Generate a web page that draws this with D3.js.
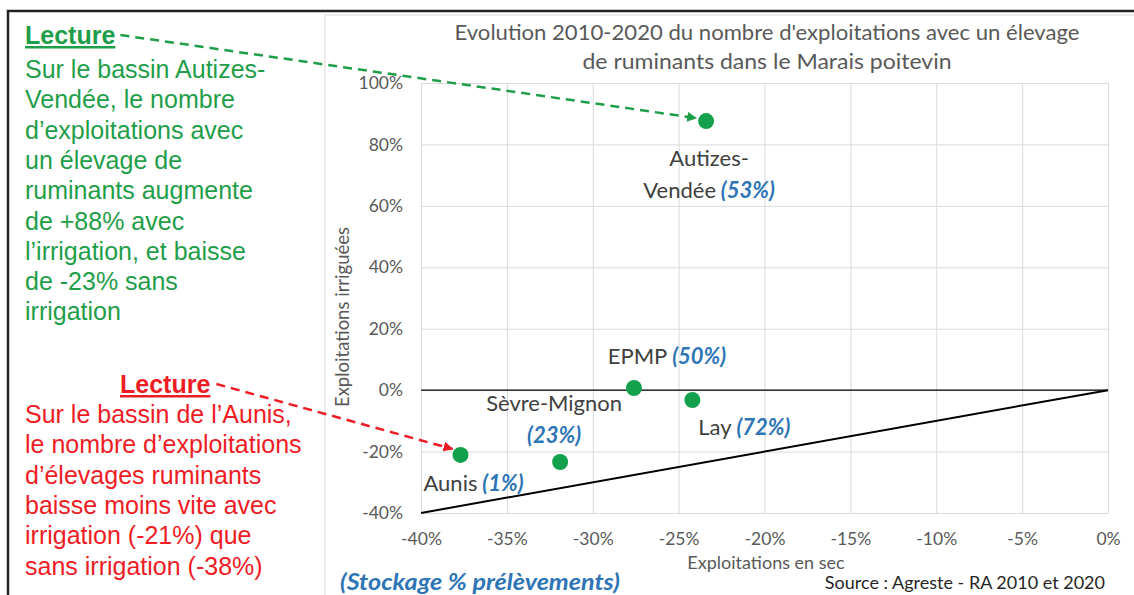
<!DOCTYPE html>
<html>
<head>
<meta charset="utf-8">
<script src="https://cdn.jsdelivr.net/npm/d3@7"></script>
<style>
  body { margin: 0; background: #fff; }
  svg { display: block; }
  .tick text { font-family: Lato, "Open Sans", sans-serif; fill: #595959; }
</style>
</head>
<body>
<div id="chart"></div>
<script>
// data
var sites = ['Autizes-Vendée', 'EPMP', 'Lay', 'Sèvre-Mignon', 'Aunis'];
var sec = [-0.234, -0.276, -0.242, -0.319, -0.377];      // exploitations en sec
var irrig = [0.876, 0.007, -0.032, -0.234, -0.211];      // exploitations irriguées
var stockage = ['53%', '50%', '72%', '23%', '1%'];       // stockage % prélèvements
var xTicks = [-0.4, -0.35, -0.3, -0.25, -0.2, -0.15, -0.1, -0.05, 0];
var yTicks = [-0.4, -0.2, 0, 0.2, 0.4, 0.6, 0.8, 1];

var greenNote = ['Sur le bassin Autizes-', 'Vendée, le nombre', 'd’exploitations avec', 'un élevage de',
    'ruminants augmente', 'de +88% avec', 'l’irrigation, et baisse', 'de -23% sans', 'irrigation'];
var redNote = ['Sur le bassin de l’Aunis,', 'le nombre d’exploitations', 'd’élevages ruminants',
    'baisse moins vite avec', 'irrigation (-21%) que', 'sans irrigation (-38%)'];

var width = 1134, height = 595;
var green = '#1f9e49', red = '#ee1c25', blue = '#2e75b6', dotColor = '#14a14d', grey = '#595959';

var pct = d3.formatLocale({ decimal: '.', thousands: ',', grouping: [3], currency: ['', ''], minus: '-' }).format('.0%');

var svg = d3.select('#chart').append('svg')
    .attr('width', width)
    .attr('height', height);

var defs = svg.append('defs');
[['arrGreen', green], ['arrRed', red]].forEach(function(m) {
    defs.append('marker')
        .attr('id', m[0])
        .attr('viewBox', '0 0 10 10')
        .attr('refX', 9).attr('refY', 5)
        .attr('markerWidth', 4).attr('markerHeight', 4)
        .attr('orient', 'auto')
        .append('path')
        .attr('d', 'M0,0L10,5L0,10Z')
        .attr('fill', m[1]);
});

// outer frame
svg.append('path')
    .attr('d', 'M8,' + height + 'V11H' + width)
    .attr('fill', 'none')
    .attr('stroke', '#222')
    .attr('stroke-width', 2.5);

// chart panel
svg.append('rect')
    .attr('x', 325).attr('y', 15)
    .attr('width', 830).attr('height', 600)
    .attr('fill', '#fff')
    .attr('stroke', '#d9d9d9');

var x = d3.scaleLinear().domain([-0.4, 0]).range([421, 1108]);
var y = d3.scaleLinear().domain([-0.4, 1]).range([513, 83]);

var gx = svg.append('g')
    .attr('transform', 'translate(0,' + y(-0.4) + ')')
    .call(d3.axisBottom(x).tickValues(xTicks).tickFormat(pct).tickSize(-(y(-0.4) - y(1))).tickPadding(20));
var gy = svg.append('g')
    .attr('transform', 'translate(' + x(-0.4) + ',0)')
    .call(d3.axisLeft(y).tickValues(yTicks).tickFormat(pct).tickSize(-(x(0) - x(-0.4))).tickPadding(18));
[gx, gy].forEach(function(g) {
    g.select('.domain').remove();
    g.selectAll('.tick line').attr('stroke', '#d9d9d9');
    g.selectAll('.tick text').attr('font-size', 17.5);
});

// reference lines
svg.append('line')
    .attr('x1', x(-0.4)).attr('x2', x(0))
    .attr('y1', y(0)).attr('y2', y(0))
    .attr('stroke', '#000').attr('stroke-width', 1.3);
svg.append('line')
    .attr('x1', x(-0.4)).attr('y1', y(-0.4))
    .attr('x2', x(0)).attr('y2', y(0))
    .attr('stroke', '#000').attr('stroke-width', 2);

// title
var title = svg.append('text')
    .attr('font-family', 'Lato, sans-serif')
    .attr('font-size', 21)
    .attr('fill', grey)
    .attr('text-anchor', 'middle');
title.append('tspan').attr('x', 767).attr('y', 40).attr('textLength', 625).attr('lengthAdjust', 'spacingAndGlyphs')
    .text("Evolution 2010-2020 du nombre d'exploitations avec un élevage");
title.append('tspan').attr('x', 767).attr('y', 69).attr('textLength', 369).attr('lengthAdjust', 'spacingAndGlyphs')
    .text('de ruminants dans le Marais poitevin');

// axis titles
svg.append('text')
    .attr('x', 766).attr('y', 569)
    .attr('text-anchor', 'middle')
    .attr('font-family', 'Lato, sans-serif').attr('font-size', 18)
    .attr('fill', grey)
    .text('Exploitations en sec');
svg.append('text')
    .attr('transform', 'translate(349,317) rotate(-90)')
    .attr('text-anchor', 'middle')
    .attr('font-family', 'Lato, sans-serif').attr('font-size', 18.5)
    .attr('fill', grey)
    .text('Exploitations irriguées');

// points
svg.append('g').selectAll('circle')
    .data(sites)
    .enter()
    .append('circle')
    .attr('cx', function(d, i) { return x(sec[i]); })
    .attr('cy', function(d, i) { return y(irrig[i]); })
    .attr('r', 8)
    .attr('fill', dotColor);

// point labels, offsets from the point (first line baseline)
var labelPos = [
    { dx: 3, dy: 45, lines: ['Autizes-', 'Vendée'], pctLine: 1 },
    { dx: 33, dy: -24, lines: ['EPMP'], pctLine: 0 },
    { dx: 52, dy: 35, lines: ['Lay'], pctLine: 0 },
    { dx: -6, dy: -51, lines: ['Sèvre-Mignon', ''], pctLine: 1 },
    { dx: 13, dy: 36, lines: ['Aunis'], pctLine: 0 }
];

var labels = svg.append('g')
    .attr('font-family', 'Lato, sans-serif')
    .attr('font-size', 22)
    .attr('text-anchor', 'middle');
sites.forEach(function(s, i) {
    var p = labelPos[i];
    var cx = x(sec[i]) + p.dx;
    var t = labels.append('text')
        .attr('x', cx)
        .attr('y', y(irrig[i]) + p.dy);
    p.lines.forEach(function(line, k) {
        var dy = k === 0 ? 0 : 32;
        if (line) {
            t.append('tspan')
                .attr('x', cx)
                .attr('dy', dy)
                .attr('fill', '#404040')
                .text(line);
            dy = 0;
        }
        if (k === p.pctLine) {
            var ps = t.append('tspan')
                .attr('fill', blue)
                .attr('font-weight', 'bold')
                .attr('font-style', 'italic')
                .text((line ? ' ' : '') + '(' + stockage[i] + ')');
            if (!line) ps.attr('x', cx).attr('dy', dy);
        }
    });
});

// bottom notes
svg.append('text')
    .attr('x', 340).attr('y', 590)
    .attr('font-family', 'Lato, sans-serif').attr('font-size', 22)
    .attr('font-weight', 'bold').attr('font-style', 'italic')
    .attr('fill', blue)
    .attr('textLength', 280).attr('lengthAdjust', 'spacingAndGlyphs')
    .text('(Stockage % prélèvements)');
svg.append('text')
    .attr('x', 1105).attr('y', 589)
    .attr('text-anchor', 'end')
    .attr('font-family', 'Lato, sans-serif').attr('font-size', 18)
    .attr('fill', '#262626')
    .text('Source : Agreste  - RA 2010 et 2020');

// left notes
function note(color, lectureX, lectureY, lines, firstY) {
    var lec = svg.append('text')
        .attr('x', lectureX).attr('y', lectureY)
        .attr('font-family', '"Liberation Sans", Arial, sans-serif')
        .attr('font-size', 25)
        .attr('font-weight', 'bold')
        .attr('text-decoration', 'underline')
        .attr('fill', color)
        .text('Lecture');
    var t = svg.append('text')
        .attr('font-family', '"Liberation Sans", Arial, sans-serif')
        .attr('font-size', 25)
        .attr('fill', color);
    lines.forEach(function(l, k) {
        t.append('tspan').attr('x', 25).attr('y', firstY + k * 30.3).text(l);
    });
    return lec.node().getBBox();
}

var gb = note(green, 25, 44, greenNote, 78);
var rb = note(red, 120, 393, redNote, 423);

svg.append('line')
    .attr('x1', gb.x + gb.width + 5).attr('y1', gb.y + gb.height / 2)
    .attr('x2', x(sec[0]) - 10).attr('y2', y(irrig[0]) - 3)
    .attr('stroke', green).attr('stroke-width', 2.5)
    .attr('stroke-dasharray', '9,6')
    .attr('marker-end', 'url(#arrGreen)');
svg.append('line')
    .attr('x1', rb.x + rb.width + 6).attr('y1', rb.y + rb.height / 2)
    .attr('x2', x(sec[4]) - 8).attr('y2', y(irrig[4]) - 6)
    .attr('stroke', red).attr('stroke-width', 2.5)
    .attr('stroke-dasharray', '9,6')
    .attr('marker-end', 'url(#arrRed)');
</script>
</body>
</html>
